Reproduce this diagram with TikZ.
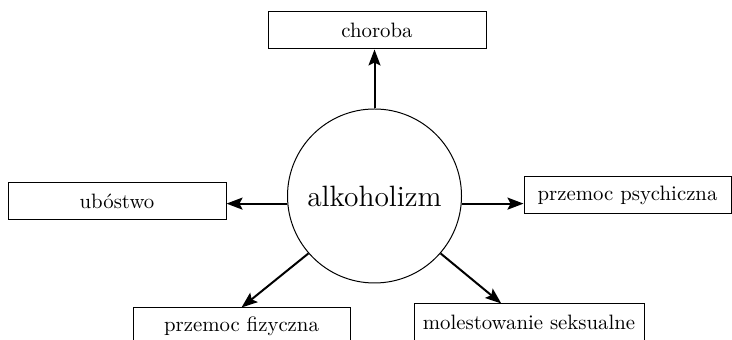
\documentclass[tikz,border=0pt]{standalone}
\usetikzlibrary{arrows.meta,calc}
\begin{document}
\begin{tikzpicture}[
  x=0.5pt, y=0.5pt,
  box/.style={draw, line width=0.5pt, minimum height=18.5pt, inner sep=0pt,
    font=\fontsize{10.4}{12}\selectfont},
  hub/.style={draw, circle, line width=0.5pt, minimum size=87pt, inner sep=0pt,
    font=\fontsize{14.7}{17}\selectfont},
  link/.style={line width=1pt, -{Stealth[length=8pt,width=6pt,inset=1.5pt]}}
]
  \clip (0,0) rectangle (732,340);

  % Central node
  \node[hub] (alk) at (374.5,144) {alkoholizm};

  % Effects
  \node[box, minimum width=109pt]   (chor) at (377,309.5) {choroba};
  \node[box, minimum width=109pt]   (ubo)  at (117,138.5) {ubóstwo};
  \node[box, minimum width=103.5pt] (psy)  at (627.5,144.5) {przemoc psychiczna};
  \node[box, minimum width=108.5pt] (fiz)  at (241.5,13.5) {przemoc fizyczna};
  \node[box, minimum width=115pt]   (mol)  at (529,17.5) {molestowanie seksualne};

  \coordinate (molin) at ($(mol.north west)!0.38!(mol.north east)$);

  \draw[link] (alk.north) -- (alk.north |- chor.south);
  \draw[link] (alk.185) -- (alk.185 -| ubo.east);
  \draw[link] (alk.-5) -- (alk.-5 -| psy.west);
  \draw[link] (alk.221) -- (fiz.north);
  \draw[link] (alk.-41) -- (molin);

\end{tikzpicture}
\end{document}
